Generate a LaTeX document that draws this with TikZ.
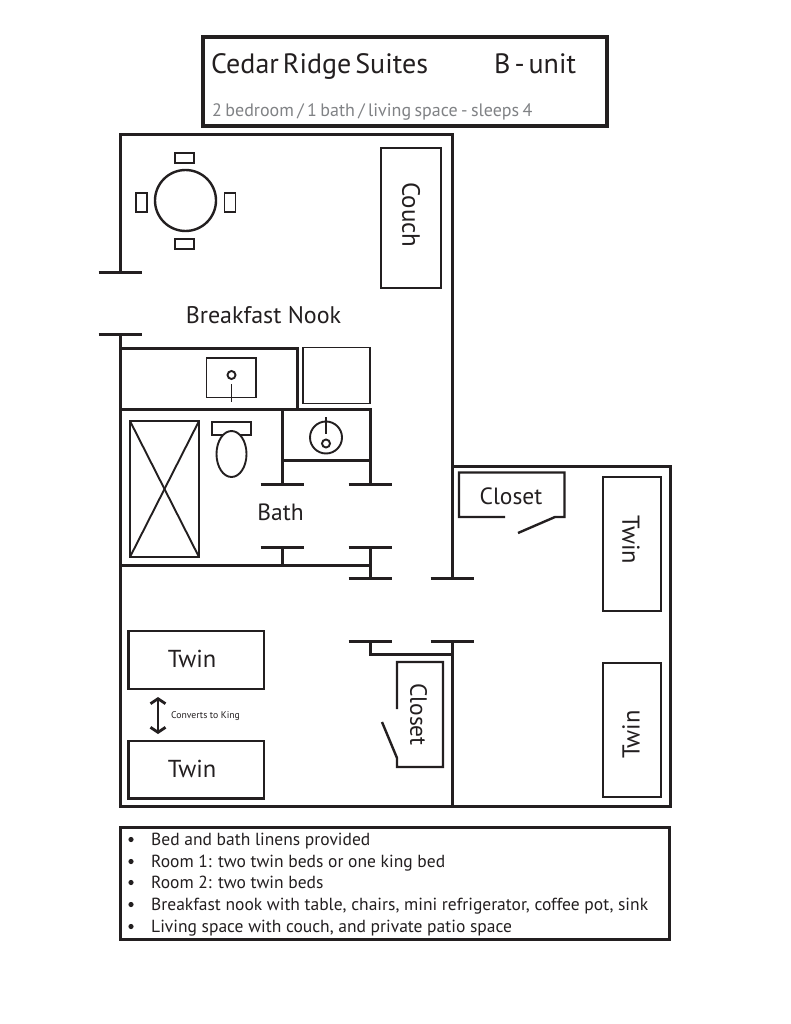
\documentclass[tikz,border=0pt]{standalone}
\usepackage{fontspec}
\setmainfont{PT Sans}
\usetikzlibrary{arrows.meta}
\definecolor{ink}{HTML}{231F20}
\definecolor{subgrey}{HTML}{808285}
\newcommand{\tightwords}[2]{\spaceskip=#1\relax #2}
\tikzset{
wall/.style={line width=3pt,draw=ink},
furn/.style={line width=2.4pt,draw=ink},
thin/.style={line width=1.9pt,draw=ink},
lab/.style={text=ink,inner sep=0pt,font=\fontsize{23.5}{23.5}\selectfont},
bedlab/.style={text=ink,inner sep=0pt,font=\fontsize{24.5}{24.5}\selectfont},
head/.style={text=ink,inner sep=0pt,anchor=base west,font=\fontsize{28}{28}\selectfont},
item/.style={text=ink,inner sep=0pt,anchor=base west,font=\fontsize{17.5}{17.5}\selectfont},
}
\begin{document}
\begin{tikzpicture}[x=1pt,y=-1pt,>=stealth]
\useasboundingbox (0,0) rectangle (791,1024);
\fill[white] (0,0) rectangle (791,1024);

% title
\draw[line width=4pt,draw=ink] (203,37) rectangle (607,126);
\node[head] (title) at (211,74){\tightwords{4pt}{Cedar Ridge Suites}};
\node[head] (unit) at (494,74){\tightwords{4pt}{B - unit}};
\node[anchor=base west,inner sep=0pt,text=subgrey,font=\fontsize{18}{18}\selectfont] (sub) at (212,117){\tightwords{3.4pt}{2 bedroom / 1 bath / living space - sleeps 4}};

% walls
\draw[wall] (120,272)--(120,135)--(452,135)--(452,578);
\draw[wall] (120,334)--(120,806)--(670.5,806)--(670.5,466)--(452,466);
\draw[wall] (120,348)--(297,348)--(297,409);
\draw[wall] (120,409)--(370,409)--(370,484);
\draw[wall] (282,409)--(282,484);
\draw[wall] (282,460)--(370,460);
\draw[wall] (120,565)--(370,565);
\draw[wall] (282,547)--(282,565);
\draw[wall] (370,547)--(370,578);
\draw[wall] (370,641)--(370,654)--(452,654);
\draw[wall] (452,641)--(452,806);

% door ends
\foreach \x/\y in {120/272,120/334,282/484,370/484,282/547,370/547,370/578,452/578,370/641,452/641}{
\draw[wall] (\x-21.5,\y)--(\x+21.5,\y);
}

% table and chairs
\draw[furn] (185.5,200.5) circle(30.5);
\draw[thin] (175,153) rectangle (194,163);
\draw[thin] (175,239) rectangle (194,249);
\draw[thin] (136,193) rectangle (147,212);
\draw[thin] (224.5,193) rectangle (235.5,212);

% couch
\draw[thin] (381,148) rectangle (441,288);
\node[bedlab,font=\fontsize{25}{25}\selectfont,rotate=-90] (couch) at (411,215){Couch};

\node[lab,anchor=base,font=\fontsize{24}{24}\selectfont] (nook) at (263.5,323){Breakfast Nook};

% counter and fridge
\draw[thin] (206.5,358) rectangle (256,397.5);
\draw[thin] (231.5,375) circle(4);
\draw[thin] (231.5,384)--(231.5,402);
\draw[thin] (303,347.5) rectangle (370,403.5);

% bath
\draw[thin] (130,421) rectangle (199,557);
\draw[thin] (130,421)--(199,557);
\draw[thin] (199,421)--(130,557);
\draw[thin] (212,422) rectangle (251,435);
\draw[thin,fill=white] (231.5,454) ellipse (15 and 23);
\draw[thin] (326,437.5) circle(16);
\draw[thin] (326,443.5) circle(4);
\draw[thin] (326,417)--(326,434);
\node[lab,anchor=base] (bath) at (280.5,520){Bath};

% room 1
\draw[furn] (128.5,631) rectangle (264,689);
\node[bedlab] (bedA) at (192,659){Twin};
\draw[furn] (128.5,741) rectangle (264,798.5);
\node[bedlab] (bedB) at (192,769){Twin};
\coordinate (convT) at (158,697);
\coordinate (convB) at (158,734);
\draw[ink,line width=2.8pt,{Straight Barb[length=5pt,width=15pt]}-{Straight Barb[length=5pt,width=15pt]}] (convT)--(convB);
\node[anchor=west,inner sep=0pt,text=ink,font=\fontsize{9.7}{9.7}\selectfont] (conv) at (171,716){Converts to King};
\draw[furn] (397,709)--(397,662)--(443,662)--(443,767)--(397,767)--(397,758)--(382,722);
\node[lab,rotate=-90] (closetA) at (418.5,714.5){Closet};

% room 2
\draw[furn] (505,517)--(459,517)--(459,472.5)--(564.5,472.5)--(564.5,517)--(555,517)--(518,533);
\node[lab] (closetB) at (511,496){Closet};
\draw[furn] (603,477) rectangle (661,611);
\node[bedlab,rotate=-90] (bedC) at (631,540){Twin};
\draw[furn] (603,663) rectangle (661,797);
\node[bedlab,rotate=90] (bedD) at (631,734.5){Twin};

% list
\draw[line width=3pt,draw=ink] (120,827) rectangle (669,939);
\foreach \y/\t/\n in {845/Bed and bath linens provided/a,
867/Room 1: two twin beds or one king bed/b,
888/Room 2: two twin beds/c,
910/{Breakfast nook with table, chairs, mini refrigerator, coffee pot, sink}/d,
932/{Living space with couch, and private patio space}/e}{
\fill[ink] (131,\y-5.5) circle(2.6);
\node[item] (list\n) at (151,\y){\t};
}
\end{tikzpicture}
\end{document}
